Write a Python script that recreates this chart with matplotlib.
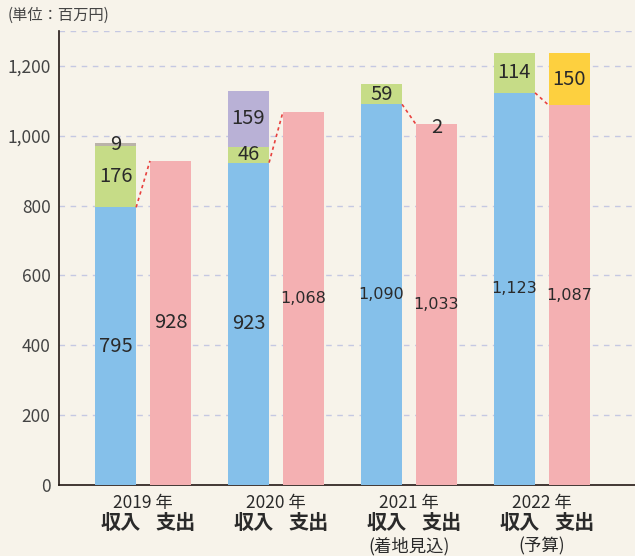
import matplotlib
matplotlib.use("Agg")
import matplotlib.pyplot as plt
import numpy as np

plt.rcParams['font.family'] = ['Noto Sans CJK JP', 'DejaVu Sans']

years = ["2019 年", "2020 年", "2021 年", "2022 年"]
notes = ["", "", "(着地見込)", "(予算)"]
inc_base = [795, 923, 1090, 1123]
inc_green = [176, 46, 59, 114]
inc_gray = [9, 0, 0, 0]
inc_purple = [0, 159, 0, 0]
exp_base = [928, 1068, 1033, 1087]
exp_top = [0, 0, 2, 150]
yticks = [0, 200, 400, 600, 800, 1000, 1200]

bg = "#f7f3ea"
c_blue = "#85c0ea"
c_green = "#c6dc87"
c_gray = "#bab3a9"
c_purple = "#b9b1d6"
c_pink = "#f4b0b2"
c_yellow = "#fdd03f"
tc = "#2a2a2a"

fig = plt.figure(figsize=(6.35, 5.56), dpi=100, facecolor=bg)
ax = fig.add_axes([59/635, 1-485/556, 576/635, (485-31)/556], facecolor=bg)

x = np.arange(len(years))
w = 0.31
off = 0.207
xi = x - off
xe = x + off

ib = np.array(inc_base); ig = np.array(inc_green); igr = np.array(inc_gray); ip = np.array(inc_purple)
eb = np.array(exp_base); et = np.array(exp_top)

ax.bar(xi, ib, w, color=c_blue, zorder=3)
ax.bar(xi, ig, w, bottom=ib, color=c_green, zorder=3)
ax.bar(xi, igr, w, bottom=ib+ig, color=c_gray, zorder=3)
ax.bar(xi, ip, w, bottom=ib+ig+igr, color=c_purple, zorder=3)
ax.bar(xe, eb, w, color=c_pink, zorder=3)
ax.bar(xe, et, w, bottom=eb, color=c_yellow, zorder=3)

# dashed connectors
for i in range(len(x)):
    ax.plot([xi[i] + w/2, xe[i] - w/2], [ib[i], eb[i]], ls=(0, (2, 2)), color="#e8413e",
            lw=1.2, zorder=4)

def fmt(v):
    return f"{v:,}"

def lbl(xp, y, v, small=False):
    ax.text(xp, y, fmt(v), ha="center", va="center", color=tc,
            fontsize=11.5 if small else 14.5, zorder=5,
            family=['DejaVu Sans'] if small else ['Noto Sans CJK JP', 'DejaVu Sans'])

for i in range(len(x)):
    lbl(xi[i], ib[i]/2, ib[i], small=ib[i] >= 1000)
    if ig[i]:
        lbl(xi[i], ib[i] + ig[i]/2, ig[i])
    if igr[i]:
        lbl(xi[i], ib[i] + ig[i] + igr[i]/2, igr[i])
    if ip[i]:
        lbl(xi[i], ib[i] + ig[i] + igr[i] + ip[i]/2, ip[i])
    lbl(xe[i], eb[i]/2, eb[i], small=eb[i] >= 1000)
    if et[i]:
        yy = eb[i] + et[i]/2 if et[i] > 20 else eb[i] + et[i] - 12
        lbl(xe[i], yy, et[i])

ax.set_ylim(0, 1300)
ax.set_xlim(-0.632, 3.70)
ax.set_yticks(yticks)
ax.set_yticklabels([fmt(v) for v in yticks], color="#444444", fontsize=12.5)
ax.set_xticks([])
for yv in yticks[1:] + [1300]:
    ax.axhline(yv, color="#c5c8e2", ls=(0, (4, 4)), lw=1, zorder=1)
for s in ["top", "right"]:
    ax.spines[s].set_visible(False)
ax.spines["left"].set_color("#231815")
ax.spines["bottom"].set_color("#231815")
ax.spines["left"].set_linewidth(1.2)
ax.spines["bottom"].set_linewidth(1.2)
ax.tick_params(axis="y", length=0, pad=6)

for i in range(len(x)):
    ax.text(x[i], -0.04, years[i], transform=ax.get_xaxis_transform(), ha="center", va="center",
            fontsize=12.5, color=tc)
    ax.text(xi[i] + 0.04, -0.083, "収入", transform=ax.get_xaxis_transform(), ha="center", va="center",
            fontsize=14.5, color=tc, fontweight="bold")
    ax.text(xe[i] + 0.04, -0.083, "支出", transform=ax.get_xaxis_transform(), ha="center", va="center",
            fontsize=14.5, color=tc, fontweight="bold")
    if notes[i]:
        ax.text(x[i], -0.135, notes[i], transform=ax.get_xaxis_transform(), ha="center", va="center",
                fontsize=12.5, color=tc)

fig.text(8/635, 1-15/556, "(単位：百万円)", ha="left", va="center", fontsize=11, color="#444444")

fig.savefig("out.png", dpi=100, facecolor=bg)
